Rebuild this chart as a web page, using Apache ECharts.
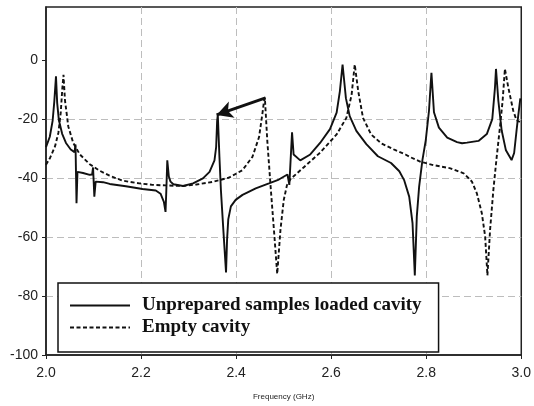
<!DOCTYPE html>
<html><head><meta charset="utf-8">
<script src="https://cdn.jsdelivr.net/npm/echarts@6/dist/echarts.min.js"></script>
<style>html,body{margin:0;padding:0;background:#fff;overflow:hidden}#c{width:100vw;height:100vh}</style>
</head><body><div id="c"></div>
<script>
// Unprepared samples loaded cavity (solid)
const loadedX = [2.000,2.008,2.014,2.0175,2.021,2.0235,2.027,2.034,2.042,2.052,2.060,2.0621,2.0642,2.0662,2.078,2.092,2.097,2.099,2.1017,2.1045,2.120,2.134,2.168,2.203,2.231,2.241,2.248,2.2515,2.253,2.2552,2.2585,2.262,2.268,2.2885,2.3094,2.3302,2.3441,2.3545,2.358,2.3601,2.3615,2.3649,2.368,2.3735,2.3788,2.381,2.3835,2.389,2.399,2.4135,2.4413,2.4691,2.490,2.508,2.512,2.5177,2.521,2.535,2.556,2.5767,2.5975,2.6115,2.6183,2.624,2.631,2.639,2.653,2.674,2.6983,2.726,2.7434,2.7538,2.7642,2.7712,2.776,2.7802,2.7851,2.792,2.799,2.8059,2.8094,2.811,2.8163,2.8267,2.8442,2.8649,2.8754,2.8858,2.91,2.9275,2.939,2.9445,2.9468,2.9517,2.9587,2.9677,2.9796,2.985,2.99,2.9935,2.998];
const loadedY = [-29.5,-26,-20.5,-14,-5.5,-14.5,-20.3,-25,-28.1,-30.3,-31.2,-28.6,-48.5,-37.9,-38.3,-38.9,-38.8,-36.4,-46.3,-41.2,-41.4,-42,-42.8,-43.7,-44.2,-45.3,-48.1,-51.5,-45,-34,-39.5,-41.2,-42.1,-42.7,-41.8,-40.1,-37.9,-34,-29.5,-20.6,-18.6,-32.8,-44,-58.5,-72,-60.8,-54,-49.6,-47.4,-45.7,-43.5,-41.8,-40.5,-38.8,-42.3,-24.5,-32,-34,-32,-28.1,-23.4,-17.8,-10.6,-1.5,-12.9,-19,-24,-28.5,-32.6,-34.9,-37.7,-40.8,-46.3,-55.3,-73,-53,-42.9,-33.9,-27.2,-17.1,-8.1,-4.3,-17.7,-22.9,-26.3,-27.8,-28.2,-28,-27.4,-25.1,-20,-9.7,-3,-13.7,-23.8,-30.6,-33.9,-31.5,-24,-19,-13];
// Empty cavity (dashed)
const emptyX = [2.000,2.0087,2.0191,2.026,2.0309,2.0344,2.0368,2.0399,2.0469,2.0573,2.0712,2.092,2.1128,2.1337,2.1615,2.1962,2.224,2.2517,2.2885,2.3163,2.351,2.3858,2.4135,2.4344,2.4483,2.4552,2.4587,2.4605,2.4656,2.4726,2.4795,2.4865,2.4934,2.5003,2.507,2.5142,2.542,2.5767,2.6115,2.632,2.643,2.6496,2.657,2.667,2.684,2.7052,2.733,2.7573,2.7677,2.7885,2.815,2.851,2.8788,2.8962,2.9066,2.917,2.924,2.9288,2.9344,2.9413,2.9483,2.9552,2.9608,2.9656,2.9726,2.983,2.990,2.997];
const emptyY = [-35.5,-33.1,-29.2,-24.7,-18,-9.5,-5,-13.6,-22.5,-28.1,-32,-35.3,-37.5,-39.2,-40.9,-41.8,-42.3,-42.5,-42.7,-42.2,-41.3,-39.8,-37.3,-32.8,-26.1,-18.3,-14,-12.8,-27.3,-42.9,-57.4,-72.5,-57.4,-47.4,-42.4,-40.4,-36.4,-31.4,-25.2,-19.6,-11.8,-1.5,-10.6,-19.6,-25.2,-28.2,-30.4,-32.1,-33,-34.5,-35.6,-36.7,-38.4,-41.2,-45.2,-51.9,-59.8,-73,-57.5,-44,-32.8,-22.7,-13.7,-3,-9.2,-17.1,-20.4,-21];
const seriesNames = ['Unprepared samples loaded cavity','Empty cavity'];
const xTicks = [2.0,2.2,2.4,2.6,2.8,3.0];
const yTicks = [-100,-80,-60,-40,-20,0];
const arrowFrom = [2.462,-12.8];
const arrowTo = [2.359,-18.6];

const zip = (xs, ys) => xs.map((x, i) => [x, ys[i]]);
const chart = echarts.init(document.getElementById('c'), null, {renderer:'canvas'});
const axisFont = {fontFamily:'Liberation Sans, Arial, sans-serif', fontSize:14, color:'#222'};
const gridLine = {show:true, showMinLine:false, showMaxLine:false, lineStyle:{color:'#bdbdbd', width:1, type:[7,4]}};
chart.setOption({
  animation:false,
  backgroundColor:'#fff',
  grid:{left:46, right:8.5, top:7, bottom:47, show:true, borderColor:'#222', borderWidth:1.5, backgroundColor:'transparent'},
  xAxis:{type:'value', min:2.0, max:3.0, interval:0.2,
    name:'Frequency (GHz)', nameLocation:'middle', nameGap:38,
    nameTextStyle:{fontFamily:'Liberation Sans, Arial, sans-serif', fontSize:8, color:'#222'},
    axisLine:{onZero:false, lineStyle:{color:'#222', width:1.5}},
    axisTick:{show:true, inside:false, length:4, lineStyle:{color:'#222'}},
    axisLabel:Object.assign({margin:11, formatter:v=>xTicks.includes(+(+v).toFixed(1))? (+v).toFixed(1):''}, axisFont),
    splitLine:gridLine},
  yAxis:{type:'value', min:-100, max:18, interval:20,
    axisLine:{show:true, onZero:false, lineStyle:{color:'#222', width:1.5}},
    axisTick:{show:true, length:4, lineStyle:{color:'#222'}, customValues:yTicks},
    axisLabel:Object.assign({margin:8, showMaxLabel:false, formatter:v=>yTicks.includes(Math.round(v))? String(Math.round(v)):''}, axisFont),
    splitLine:gridLine},
  legend:{orient:'vertical', left:58, top:283, backgroundColor:'#fff', borderColor:'#111', borderWidth:1.5,
    padding:[13,17,15,11], itemGap:3, itemWidth:60, itemHeight:14,
    itemStyle:{color:'rgba(0,0,0,0)', borderWidth:0, opacity:0},
    textStyle:{fontFamily:'Liberation Serif, Times New Roman, serif', fontWeight:'bold', fontSize:19, color:'#111', padding:[0,0,0,7]},
    data:seriesNames},
  series:[
    {name:seriesNames[0], type:'line', data:zip(loadedX, loadedY), symbol:'none', showSymbol:false,
     lineStyle:{color:'#111', width:1.9}, itemStyle:{color:'#111'},
     markLine:{silent:true, symbol:['none','arrow'], symbolSize:[13,16], label:{show:false},
       lineStyle:{color:'#111', width:3, type:'solid'},
       data:[[{coord:arrowFrom},{coord:arrowTo}]]}},
    {name:seriesNames[1], type:'line', data:zip(emptyX, emptyY), symbol:'none', showSymbol:false,
     lineStyle:{color:'#111', width:1.9, type:[4,2.5]}, itemStyle:{color:'#111'}}
  ]
});
</script></body></html>
